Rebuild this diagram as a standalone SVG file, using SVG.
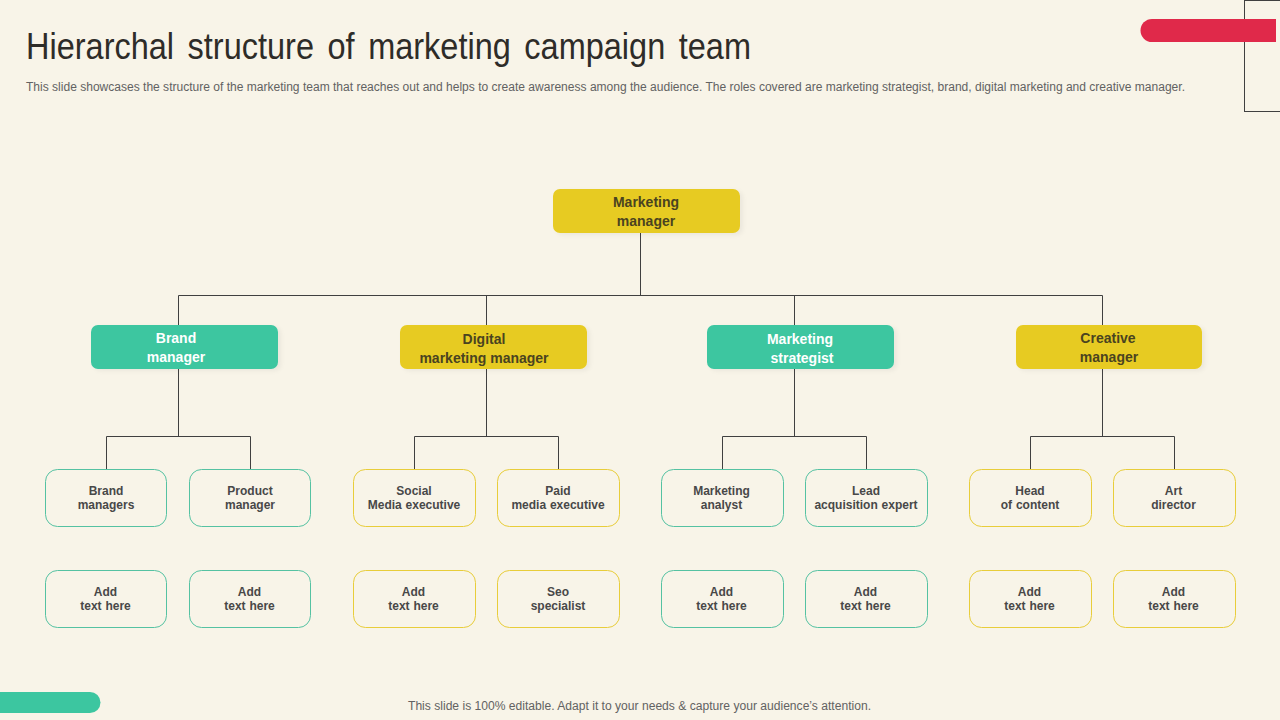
<svg xmlns="http://www.w3.org/2000/svg" width="1280" height="720" viewBox="0 0 1280 720">
<style>
text{font-family:"Liberation Sans",Arial,sans-serif}
.l{fill:none;stroke:#404040;stroke-width:1}
.m{font-size:14px;font-weight:700;text-anchor:middle}
.d{fill:#4a4320}.w{fill:#fff}
.s{font-size:12px;font-weight:700;text-anchor:middle;fill:#484848;word-spacing:.5px}
.y{fill:#e7cb22;filter:url(#sh)}.g{fill:#3cc6a0;filter:url(#sh)}
.by{fill:#f8f4e8;stroke:#e8cd3a;stroke-width:1}.bg{fill:#f8f4e8;stroke:#55c2a2;stroke-width:1}
</style>
<defs><filter id="sh" x="-10%" y="-20%" width="120%" height="140%"><feDropShadow dx="3" dy="2" stdDeviation="2" flood-color="#000" flood-opacity="0.05"/></filter></defs>
<rect width="1280" height="720" fill="#f8f4e8"/>
<g id="decor">
<rect x="1244.500" y="0.500" width="40" height="111" fill="none" stroke="#404040"/>
<path d="M1152 19H1276V42H1152A11.500 11.500 0 0 1 1152 19Z" fill="#e0294a"/>
<path d="M0 692H90A10 10 0 0 1 90 713H0Z" fill="#3cc6a0"/>
</g>
<g id="header">
<text x="26" y="59" font-size="36" fill="#2e2c28" style="word-spacing:5px" textLength="725" lengthAdjust="spacingAndGlyphs">Hierarchal structure of marketing campaign team</text>
<text x="26" y="91" font-size="12" fill="#626262" textLength="1159" lengthAdjust="spacingAndGlyphs">This slide showcases the structure of the marketing team that reaches out and helps to create awareness among the audience. The roles covered are marketing strategist, brand, digital marketing and creative manager.</text>
</g>
<g id="connectors">
<path class="l" d="M640.500 233V295.500M178.500 325V295.500H1102.500V325M486.500 295.500V325M794.500 295.500V325"/>
<path class="l" d="M178.500 369V436.500M106.500 469V436.500H250.500V469"/>
<path class="l" d="M486.500 369V436.500M414.500 469V436.500H558.500V469"/>
<path class="l" d="M794.500 369V436.500M722.500 469V436.500H866.500V469"/>
<path class="l" d="M1102.500 369V436.500M1030.500 469V436.500H1174.500V469"/>
</g>
<g id="n-marketing-manager"><rect class="y" x="553" y="189" width="187" height="44" rx="7"/><text class="m d" x="646" y="207">Marketing</text><text class="m d" x="646" y="226">manager</text></g>
<g id="n-brand-manager"><rect class="g" x="91" y="325" width="187" height="44" rx="7"/><text class="m w" x="176" y="343">Brand</text><text class="m w" x="176" y="362">manager</text></g>
<g id="n-digital"><rect class="y" x="400" y="325" width="187" height="44" rx="7"/><text class="m d" x="484" y="344">Digital</text><text class="m d" x="484" y="363">marketing manager</text></g>
<g id="n-strategist"><rect class="g" x="707" y="325" width="187" height="44" rx="7"/><text class="m w" x="800" y="344">Marketing</text><text class="m w" x="802" y="363">strategist</text></g>
<g id="n-creative"><rect class="y" x="1016" y="325" width="186" height="44" rx="7"/><text class="m d" x="1108" y="343">Creative</text><text class="m d" x="1109" y="362">manager</text></g>

<g id="n-a1"><rect class="bg" x="45.500" y="469.500" width="121" height="57" rx="12"/><text class="s" x="106" y="495">Brand</text><text class="s" x="106" y="509">managers</text></g>
<g id="n-a2"><rect class="bg" x="189.500" y="469.500" width="121" height="57" rx="12"/><text class="s" x="250" y="495">Product</text><text class="s" x="250" y="509">manager</text></g>
<g id="n-a3"><rect class="by" x="353.500" y="469.500" width="122" height="57" rx="12"/><text class="s" x="414" y="495">Social</text><text class="s" x="414" y="509">Media executive</text></g>
<g id="n-a4"><rect class="by" x="497.500" y="469.500" width="122" height="57" rx="12"/><text class="s" x="558" y="495">Paid</text><text class="s" x="558" y="509">media executive</text></g>
<g id="n-a5"><rect class="bg" x="661.500" y="469.500" width="122" height="57" rx="12"/><text class="s" x="721.500" y="495">Marketing</text><text class="s" x="721.500" y="509">analyst</text></g>
<g id="n-a6"><rect class="bg" x="805.500" y="469.500" width="122" height="57" rx="12"/><text class="s" x="866" y="495">Lead</text><text class="s" x="866" y="509">acquisition expert</text></g>
<g id="n-a7"><rect class="by" x="969.500" y="469.500" width="122" height="57" rx="12"/><text class="s" x="1030" y="495">Head</text><text class="s" x="1030" y="509">of content</text></g>
<g id="n-a8"><rect class="by" x="1113.500" y="469.500" width="122" height="57" rx="12"/><text class="s" x="1173.500" y="495">Art</text><text class="s" x="1173.500" y="509">director</text></g>

<g id="n-b1"><rect class="bg" x="45.500" y="570.500" width="121" height="57" rx="12"/><text class="s" x="105.500" y="596">Add</text><text class="s" x="105.500" y="610">text here</text></g>
<g id="n-b2"><rect class="bg" x="189.500" y="570.500" width="121" height="57" rx="12"/><text class="s" x="249.500" y="596">Add</text><text class="s" x="249.500" y="610">text here</text></g>
<g id="n-b3"><rect class="by" x="353.500" y="570.500" width="122" height="57" rx="12"/><text class="s" x="413.500" y="596">Add</text><text class="s" x="413.500" y="610">text here</text></g>
<g id="n-b4"><rect class="by" x="497.500" y="570.500" width="122" height="57" rx="12"/><text class="s" x="558" y="596">Seo</text><text class="s" x="558" y="610">specialist</text></g>
<g id="n-b5"><rect class="bg" x="661.500" y="570.500" width="122" height="57" rx="12"/><text class="s" x="721.500" y="596">Add</text><text class="s" x="721.500" y="610">text here</text></g>
<g id="n-b6"><rect class="bg" x="805.500" y="570.500" width="122" height="57" rx="12"/><text class="s" x="865.500" y="596">Add</text><text class="s" x="865.500" y="610">text here</text></g>
<g id="n-b7"><rect class="by" x="969.500" y="570.500" width="122" height="57" rx="12"/><text class="s" x="1029.500" y="596">Add</text><text class="s" x="1029.500" y="610">text here</text></g>
<g id="n-b8"><rect class="by" x="1113.500" y="570.500" width="122" height="57" rx="12"/><text class="s" x="1173.500" y="596">Add</text><text class="s" x="1173.500" y="610">text here</text></g>
<g id="footer"><text x="408" y="710" font-size="12" fill="#626262" textLength="463" lengthAdjust="spacingAndGlyphs">This slide is 100% editable. Adapt it to your needs &amp; capture your audience’s attention.</text></g>
</svg>
